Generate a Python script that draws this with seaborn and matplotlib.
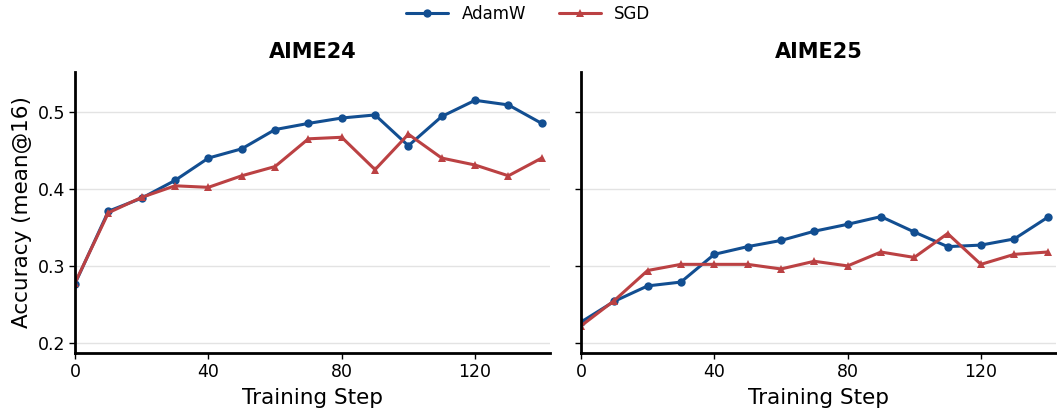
import numpy as np
import pandas as pd
import matplotlib
matplotlib.use("Agg")
import matplotlib.pyplot as plt
import seaborn as sns

# Data
steps = [0, 10, 20, 30, 40, 50, 60, 70, 80, 90, 100, 110, 120, 130, 140]

aime24_adamw = [0.277, 0.371, 0.388, 0.411, 0.440, 0.452, 0.477, 0.485, 0.492, 0.496,
                0.456, 0.494, 0.515, 0.509, 0.485]
aime24_sgd = [0.278, 0.369, 0.389, 0.404, 0.402, 0.417, 0.429, 0.465, 0.467, 0.425,
              0.471, 0.440, 0.431, 0.417, 0.440]

aime25_adamw = [0.227, 0.254, 0.274, 0.279, 0.315, 0.325, 0.333, 0.345, 0.354, 0.364,
                0.344, 0.325, 0.327, 0.335, 0.363]
aime25_sgd = [0.222, 0.255, 0.294, 0.302, 0.302, 0.302, 0.296, 0.306, 0.300, 0.318,
              0.311, 0.342, 0.302, 0.315, 0.318]

optimizers = ["AdamW", "SGD"]
colors = {"AdamW": "#124e91", "SGD": "#bb4143"}
markers = {"AdamW": "o", "SGD": "^"}

sns.set_theme(style="white")
plt.rcParams['font.family'] = ['DejaVu Sans']
plt.rcParams['text.color'] = 'black'
plt.rcParams['axes.labelcolor'] = 'black'
plt.rcParams['xtick.color'] = 'black'
plt.rcParams['ytick.color'] = 'black'

def make_df(adamw, sgd):
    return pd.DataFrame({
        "step": steps * 2,
        "acc": adamw + sgd,
        "opt": ["AdamW"] * len(steps) + ["SGD"] * len(steps),
    })

panels = [("AIME24", make_df(aime24_adamw, aime24_sgd)),
          ("AIME25", make_df(aime25_adamw, aime25_sgd))]

fig, axes = plt.subplots(1, 2, figsize=(10.57, 4.08), dpi=100, sharey=True)
fig.subplots_adjust(left=0.071, right=0.999, bottom=0.135, top=0.824, wspace=0.065)

for ax, (title, df) in zip(axes, panels):
    sns.lineplot(data=df, x="step", y="acc", hue="opt", style="opt",
                 palette=colors, markers=markers, dashes=False,
                 linewidth=2.2, markersize=6, markeredgewidth=0,
                 ax=ax, legend=(ax is axes[0]))
    ax.set_title(title, fontsize=15, fontweight="bold", pad=10)
    ax.set_xlim(0, 142.5)
    ax.set_ylim(0.187, 0.552)
    ax.set_xticks([0, 40, 80, 120])
    ax.set_yticks([0.2, 0.3, 0.4, 0.5])
    ax.yaxis.grid(True, color="#e3e3e3", linewidth=1)
    ax.set_axisbelow(True)
    sns.despine(ax=ax)
    for s in ["left", "bottom"]:
        ax.spines[s].set_linewidth(2)
        ax.spines[s].set_color("black")
    ax.tick_params(axis="both", labelsize=12.5, length=4, width=1, color="black",
                   pad=3, bottom=True, left=True)
    ax.set_xlabel("Training Step", fontsize=15.5, labelpad=5)
    ax.set_ylabel("")

axes[0].set_ylabel("Accuracy (mean@16)", fontsize=15.5)

handles, labels = axes[0].get_legend_handles_labels()
axes[0].get_legend().remove()
fig.legend(handles, labels, loc="upper center", ncol=2, frameon=False,
           fontsize=12, bbox_to_anchor=(0.5, 1.025), handlelength=2.5, columnspacing=2)

fig.savefig("out.png", dpi=100)
